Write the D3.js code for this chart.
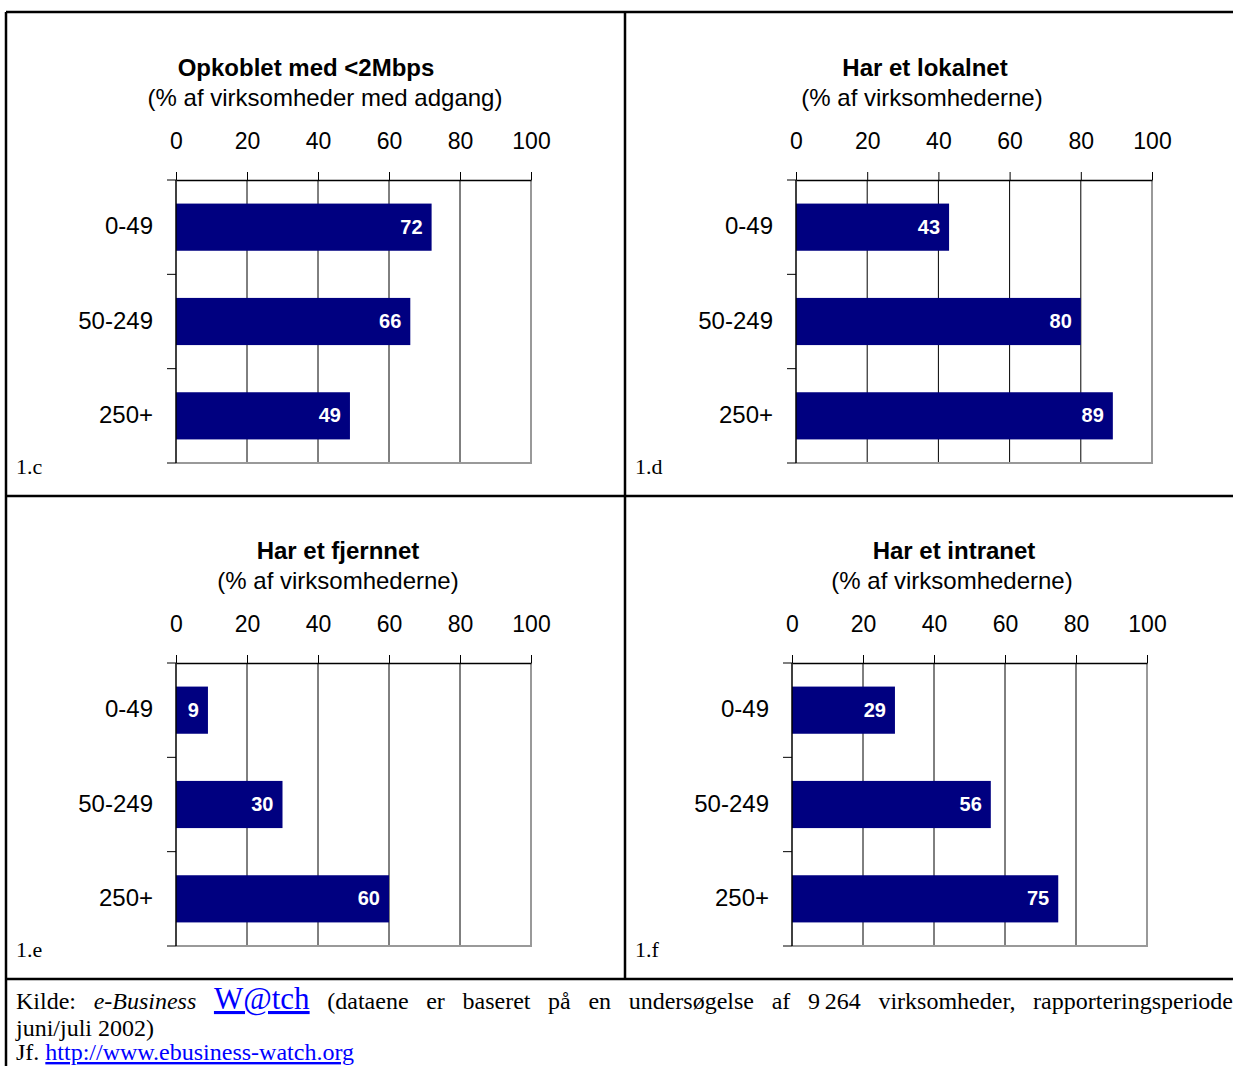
<!DOCTYPE html>
<html>
<head>
<meta charset="utf-8">
<script src="https://cdn.jsdelivr.net/npm/d3@7"></script>
<style>
  html, body { margin: 0; padding: 0; background: #fff; }
  svg { display: block; }
</style>
</head>
<body>
<script>
// Firm-size classes (number of employees)
const categories = ["0-49", "50-249", "250+"];

// Percent values per panel
const valuesOpkoblet = [72, 66, 49];
const valuesLokalnet = [43, 80, 89];
const valuesFjernnet = [9, 30, 60];
const valuesIntranet = [29, 56, 75];

const xTicks = [0, 20, 40, 60, 80, 100];

const panelTitles = ["Opkoblet med <2Mbps", "Har et lokalnet", "Har et fjernnet", "Har et intranet"];
const panelSubtitles = ["(% af virksomheder med adgang)", "(% af virksomhederne)", "(% af virksomhederne)", "(% af virksomhederne)"];
const panelIds = ["1.c", "1.d", "1.e", "1.f"];

const W = 1233, H = 1066;
const svg = d3.select("body").append("svg").attr("width", W).attr("height", H);

// Frame geometry for each panel
const layout = [
  { values: valuesOpkoblet, left: 176, right: 531, top: 180, bottom: 463, cellX: 6,   titleX: 306, subX: 325 },
  { values: valuesLokalnet, left: 796, right: 1152, top: 180, bottom: 463, cellX: 625, titleX: 925, subX: 922 },
  { values: valuesFjernnet, left: 176, right: 531, top: 663, bottom: 946, cellX: 6,   titleX: 338, subX: 338 },
  { values: valuesIntranet, left: 792, right: 1147, top: 663, bottom: 946, cellX: 625, titleX: 954, subX: 952 }
];

const sans = "'Liberation Sans', Arial, sans-serif";
const serif = "'Liberation Serif', 'Times New Roman', serif";

layout.forEach((p, i) => {
  const g = svg.append("g");
  const x = d3.scaleLinear().domain([0, 100]).range([p.left, p.right]);
  const y = d3.scaleBand().domain(categories).range([p.top, p.bottom])
    .paddingInner(0.5).paddingOuter(0.25);
  const step = y.step();

  // Titles
  g.append("text").attr("x", p.titleX).attr("y", p.top - 104)
    .attr("text-anchor", "middle").attr("font-family", sans)
    .attr("font-size", 24).attr("font-weight", "bold").text(panelTitles[i]);
  g.append("text").attr("x", p.subX).attr("y", p.top - 74)
    .attr("text-anchor", "middle").attr("font-family", sans)
    .attr("font-size", 24).text(panelSubtitles[i]);

  // Vertical gridlines
  g.selectAll("line.grid").data(xTicks.slice(1, -1)).enter().append("line")
    .attr("x1", d => x(d)).attr("x2", d => x(d))
    .attr("y1", p.top).attr("y2", p.bottom)
    .attr("stroke", "#000").attr("stroke-width", 1);

  // Plot area right/bottom border (grey)
  g.append("path")
    .attr("d", `M${x(100)},${p.top}V${p.bottom}H${x(0)}`)
    .attr("fill", "none").attr("stroke", "#999").attr("stroke-width", 2);

  // Bars
  g.selectAll("rect.bar").data(p.values).enter().append("rect")
    .attr("x", x(0)).attr("y", (d, j) => y(categories[j]))
    .attr("width", d => x(d) - x(0)).attr("height", y.bandwidth())
    .attr("fill", "#000080");

  // Value labels inside bar ends
  g.selectAll("text.val").data(p.values).enter().append("text")
    .attr("x", d => x(d) - 9)
    .attr("y", (d, j) => y(categories[j]) + y.bandwidth() / 2)
    .attr("dy", "0.33em").attr("text-anchor", "end")
    .attr("font-family", sans).attr("font-size", 20).attr("font-weight", "bold")
    .attr("fill", "#fff").text(d => d);

  // Top value axis
  const ax = g.append("g").attr("transform", `translate(0,${p.top})`)
    .call(d3.axisTop(x).tickValues(xTicks).tickSize(8).tickPadding(23).tickSizeOuter(0));
  ax.select(".domain").attr("stroke", "#000").attr("stroke-width", 1.5);
  ax.selectAll(".tick line").attr("stroke", "#000");
  ax.selectAll(".tick text").attr("font-family", sans).attr("font-size", 23).attr("fill", "#000");

  // Category axis: line, band separators and labels
  g.append("line").attr("x1", x(0)).attr("x2", x(0)).attr("y1", p.top).attr("y2", p.bottom)
    .attr("stroke", "#000").attr("stroke-width", 1.5);
  g.selectAll("line.sep").data(d3.range(categories.length + 1)).enter().append("line")
    .attr("x1", x(0) - 9).attr("x2", x(0))
    .attr("y1", k => p.top + k * step).attr("y2", k => p.top + k * step)
    .attr("stroke", "#000").attr("stroke-width", 1);
  g.selectAll("text.cat").data(categories).enter().append("text")
    .attr("x", x(0) - 23).attr("y", d => y(d) + y.bandwidth() / 2)
    .attr("dy", "0.3em").attr("text-anchor", "end")
    .attr("font-family", sans).attr("font-size", 24).text(d => d);

  // Panel id
  g.append("text").attr("x", p.cellX + 10).attr("y", p.bottom + 11)
    .attr("font-family", serif).attr("font-size", 22).text(panelIds[i]);
});

// Table frame
const frame = svg.append("g").attr("stroke", "#000").attr("stroke-width", 2.5).attr("fill", "none");
frame.append("line").attr("x1", 6).attr("x2", W).attr("y1", 12).attr("y2", 12);
frame.append("line").attr("x1", 6).attr("x2", W).attr("y1", 496).attr("y2", 496);
frame.append("line").attr("x1", 6).attr("x2", W).attr("y1", 979).attr("y2", 979);
frame.append("line").attr("x1", 6).attr("x2", 6).attr("y1", 12).attr("y2", H);
frame.append("line").attr("x1", 625).attr("x2", 625).attr("y1", 12).attr("y2", 979);

// Source note, first line justified between the margins
const note = svg.append("g").attr("font-family", serif).attr("font-size", 24).attr("fill", "#000");
const words = [
  { t: "Kilde:" },
  { t: "e-Business", italic: true },
  { t: "W@tch", link: true, size: 31 },
  { t: "(dataene" }, { t: "er" }, { t: "baseret" }, { t: "på" }, { t: "en" },
  { t: "undersøgelse" }, { t: "af" }, { t: "9\u2009264" }, { t: "virksomheder," },
  { t: "rapporteringsperiode" }
];
const lineLeft = 16, lineRight = 1233, base1 = 1009;
const nodes = words.map(w => {
  const t = note.append("text").attr("y", base1).text(w.t);
  if (w.italic) t.attr("font-style", "italic");
  if (w.link) t.attr("fill", "#0000ff").attr("font-size", w.size).attr("text-decoration", "underline");
  return t;
});
const widths = nodes.map(n => n.node().getComputedTextLength());
const gap = (lineRight - lineLeft - d3.sum(widths)) / (words.length - 1);
let cx = lineLeft;
nodes.forEach((n, k) => { n.attr("x", cx); cx += widths[k] + gap; });

note.append("text").attr("x", 16).attr("y", 1036).text("juni/juli 2002)");
const l3 = note.append("text").attr("x", 16).attr("y", 1060);
l3.append("tspan").text("Jf. ");
l3.append("tspan").attr("fill", "#0000ff").attr("text-decoration", "underline")
  .text("http://www.ebusiness-watch.org");
</script>
</body>
</html>
